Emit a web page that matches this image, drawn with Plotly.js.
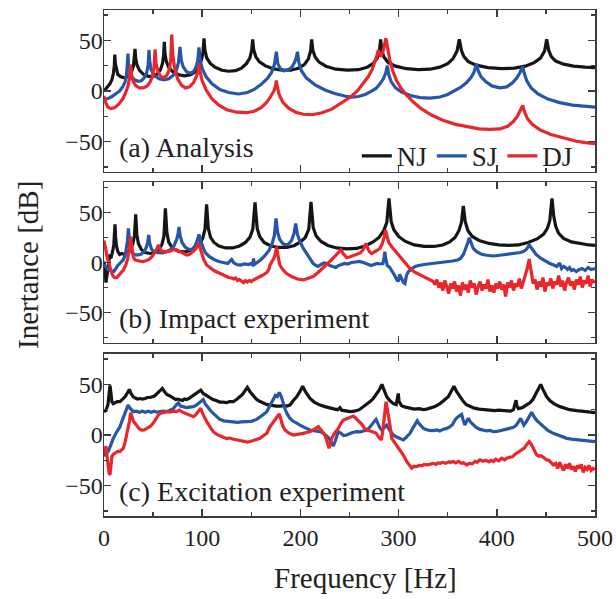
<!DOCTYPE html>
<html>
<head>
<meta charset="utf-8">
<script src="https://cdn.plot.ly/plotly-3.0.1.min.js"></script>
<style>
  html, body { margin: 0; padding: 0; background: #fff; }
  #chart { width: 616px; height: 599px; }
</style>
</head>
<body>
<div id="chart"></div>
<script>
// Inertance spectra [frequency Hz, dB] for the three joint types.

// (a) Analysis
const NJ_analysis = [[0,0],[3,3],[6,7],[8,11],[9.5,17],[10.5,25],[11,36],[11.6,27],[12.5,21],[14,16.5],[17,14],[21,13],[25,14.5],[28,19],[30,25],[31,32],[31.6,41.5],[32.3,32],[33.5,26],[36,20.5],[40,16.5],[45,14.5],[50,14.5],[54,16.5],[57.5,21],[59.5,27],[60.7,35],[61.4,48.5],[62.2,36],[63.5,29],[66,23],[70,19],[76,16],[82,15],[88,16],[93,19],[96.5,24],[99,30],[100.8,38],[101.8,52],[102.8,40],[104.5,33],[108,27.5],[113,23.5],[120,20.5],[127,19.5],[134,20],[140,22.5],[145,27],[148.5,32.5],[150.4,40],[151.4,51],[152.4,41],[154.5,34],[158,29],[164,25],[172,22],[181,20.5],[190,20.5],[198,22.5],[204,26],[208,31.5],[210.3,39],[211.5,51],[212.7,40],[215,33.5],[219,28.5],[226,24.5],[236,21.5],[248,20.5],[259,21],[268,23.5],[274,27],[278,32],[280.5,39.5],[281.7,51],[282.9,40],[285,33.5],[289.5,28],[297,24.5],[308,22],[320,21],[332,21.5],[342,23.5],[350,27],[355.5,32],[359.5,39.5],[361.8,51],[364,40],[366.5,34],[371,29],[379,25.5],[391,23],[405,22],[418,22.5],[429,24.5],[438,28],[444.5,32.5],[448.7,39.5],[450.8,51],[452.9,40],[455.5,34],[460,29.5],[468,26.5],[478,24.5],[490,23.5],[500,23]];
const SJ_analysis = [[0,-8.5],[4,-7.5],[8,-5.5],[12,-3],[16,0],[19,4],[21.5,9],[23,16],[23.8,25],[24.4,37],[25,27],[26,20],[28,14.5],[31,11],[35,9.5],[38,10],[41,13],[43.5,18],[45,26],[45.8,40.5],[46.6,29],[48,21],[51,15.5],[56,12],[61,11],[66,12],[70,15],[73.5,20],[75.8,28],[77.4,43.5],[78.6,31],[80.5,24],[84,19],[88,17.5],[91,19],[93.5,23],[95.5,30],[96.7,43],[97.8,31],[100,22],[104,14],[110,7],[118,1.5],[127,-1.5],[137,-3],[146,-1.5],[153,1.5],[160,6.5],[166,12],[170.5,18],[173.5,26],[175.5,38.8],[177,27],[179.5,22],[183,20],[187,20.5],[191,23],[194,28],[195.8,33],[197,38.8],[198.5,28],[201,20],[206,13],[215,6],[225,1],[235,-2.5],[245,-5],[252,-6],[259,-5.5],[266,-3.5],[272,-0.5],[277,2.5],[281,7],[284.5,12],[287,18],[288.5,25],[290,16],[292.5,9],[297,3],[303,-1],[312,-4.5],[322,-6.5],[332,-7],[342,-6],[350,-3.5],[357,0],[363,3.5],[369,8],[373.5,13],[376.5,18],[378.5,23],[379.5,26.8],[381,20],[384,14],[389,9],[395,5],[403,3],[410,4],[416,8],[420.5,13],[423.5,18],[425.5,22],[426.4,24],[427.8,18],[430.5,10],[435,3],[442,-3],[452,-8],[464,-11.5],[477,-14],[490,-15.5],[500,-16]];
const DJ_analysis = [[0,-5],[2,-12],[4,-16],[7,-17.5],[11,-16.5],[15,-13],[19,-8],[22,-2],[24.5,5],[26,13],[27,26],[28,16],[29.5,10],[32,5.5],[36,3],[40,3],[44,5],[47,9],[49.5,15],[51,24],[52,41],[53,27],[55,19],[58,14],[61,13],[64,15.5],[66.5,21],[68,31],[69,55.8],[70,36],[72,22],[75,12],[79,5.5],[83,3],[87,4],[91,8],[94,14],[95.8,20],[96.7,27.5],[97.8,19],[100,10],[104,1],[110,-8],[117,-14],[125,-18.5],[135,-21],[145,-21.5],[153,-20],[160,-16.5],[166,-11],[170,-5],[173,0],[174.7,5],[175.5,10.4],[176.5,4],[178.5,-4],[182,-11],[188,-17],[195,-21],[203,-23],[212,-23.5],[222,-21.5],[232,-18],[242,-12],[251,-6],[258,0],[264,7],[269,14],[273,21],[276,29],[278,35],[279.4,40.5],[280.6,37],[282,34],[284.5,40],[286,47],[287,52],[288,47],[289.5,38],[291,31],[294,20],[298,10],[302,3.5],[308,-4],[315,-11],[323,-17.5],[333,-23.5],[345,-29],[358,-33],[370,-35.5],[382,-37.5],[393,-38],[403,-37.5],[411,-35],[417,-30],[421,-25],[424.5,-19],[426.4,-14.4],[428,-20],[431,-27],[436,-33],[444,-38.5],[455,-43],[467,-46.5],[480,-49.5],[490,-51],[500,-52]];

// (b) Impact experiment
const NJ_impact = [[0,1],[1,-6],[2,-20],[3,-14],[4,-4],[5,2],[6,8],[7,4],[8,7],[9,12],[10,18],[10.6,26],[11.2,38],[11.8,26],[12.6,17],[14,11],[16,8],[18,9],[21,8],[24,10],[27,13],[29.5,19],[31,27],[32.3,48],[33.4,28],[35,19],[38,13],[42,10],[47,9],[52,10],[56,13],[59,18],[61,26],[62.5,54],[64,30],[66,20],[70,14],[76,11],[82,10.5],[88,12],[93,14.5],[97,18],[100.5,24],[102.8,33],[104.5,58],[106.2,34],[108.5,25],[112,20],[117,16.5],[124,14.5],[131,14.5],[138,16.5],[144,20],[148.5,25],[151.5,33],[153.8,60],[156,34],[158.5,26],[163,20],[170,16.5],[178,15],[186,15],[194,17],[200,20.5],[205,25],[208.5,33],[210.8,60.5],[213,35],[216,26.5],[221,21],[228,17],[237,14.5],[247,13.5],[257,14],[266,16.5],[274,20.5],[280,25],[285,32],[288,40],[290.2,64],[292.4,41],[295,33],[300,26],[307,21],[316,17.5],[326,16],[336,16],[345,17.5],[352,20.5],[357.5,25],[361.5,32],[364,40],[365.9,56.5],[367.8,41],[370.5,32],[375,26],[382,22],[392,19],[402,17.5],[412,17],[422,17.5],[432,20],[441,23.5],[447.5,28],[451.5,34],[454,42],[456.2,64],[458,46],[460,36],[463,29],[468,24],[476,20.5],[486,18.5],[494,17.5],[500,17]];
const SJ_impact = [[0,-2],[2,-5],[4,-7],[6,-8],[8,-8.5],[10,-9],[12,-6],[14,-3],[17,0],[19.5,2.5],[21.5,7],[23,14],[24,22],[24.8,34],[25.6,22],[27,13],[29,9],[32,7.5],[35,7.5],[38,8.5],[41,11],[43,15],[44.5,20],[45.5,27.4],[46.6,19],[48.5,13],[52,10],[56,9.5],[60,9.5],[64,11],[68,13],[71.5,17],[74,23],[75.5,29],[76.4,35.5],[77.5,27],[79.5,20],[83,15],[87,13],[90,13.5],[93,17],[95,22],[96.7,28],[98.5,21],[100.5,15],[103,10],[107,6],[112,3],[117,1],[122,-0.5],[126,-1],[128,1],[130,3],[132,0],[135,-2],[139,-2.5],[143,-1.5],[147,-2],[150,-1],[151.5,-3],[152.3,4],[153,-2],[156,0],[160,3],[164,7],[168,12],[171,18],[173.5,27],[175.2,44],[176.8,30],[179,23],[182,19],[185,17.5],[188,18.5],[191,22],[193.5,29],[195.2,39],[197,28],[199.5,21],[203,14],[207,8],[210,3],[213,-1],[216,-3],[218,-4],[221,-2],[224,-0.5],[227,-1],[230,-3],[233,-4],[236,-5],[239,-3],[242,-2],[245,-1],[248,-1.5],[252,0],[256,0.5],[260,1],[264,0],[268,-1.5],[272,-3],[275,-2],[278,-1],[281,-1.5],[284,-1],[285.2,5],[286,10.7],[287,3],[288.5,-3],[291,-5],[294,-9],[296,-13],[298,-17],[299.7,-19],[301,-12],[303,-16],[305,-20],[306.5,-21],[308,-13],[310,-9],[312,-7],[315,-5],[318,-3.5],[322,-2.5],[326,-2],[330,-1.5],[335,-1],[340,0],[345,0.5],[350,1],[355,1.5],[360,2.5],[363,4],[366,8],[368.5,14],[370.5,20],[372,24.7],[373.5,20],[376,14],[379.5,10.7],[384,8.5],[388,7.5],[392,7],[396.5,6.5],[401,7],[406,7.5],[411,8],[416,8.5],[420.3,9],[424,10],[427,11],[430,13],[433.1,17.4],[436,13],[440,8],[445,4],[450,1],[454,-1],[458,-2.5],[461,-4],[464,-0.5],[466,-6],[468,-4],[470,-5],[472,-7],[474,-5],[476,-8],[478,-7],[481,-9],[484,-7],[487,-6],[490,-8],[493,-5],[496,-7],[500,-6]];
const DJ_impact = [[0,22],[1,18],[2,12],[3,6],[4.4,0.8],[6,-6],[8,-11],[9.5,-14],[11,-15],[13,-15],[15,-13],[17,-10.5],[19.7,-7.5],[22,-3],[24,3],[25.5,12],[26.5,19],[27.2,25.7],[28,18],[29,10],[30,5],[32,2.5],[35,1.5],[38,1],[40,0.8],[43,1.5],[46,3],[49,6],[52,10],[54,14],[55.3,17.4],[56.5,14],[58,12],[60.4,10.7],[63,10.5],[66,11],[69,12],[72,13],[74,12.5],[77,11],[80,9],[84.2,7.5],[87,8],[90,10],[92.5,12.5],[94.5,15],[96,17],[97,19],[98,14],[99.5,8],[101.5,3],[104.5,-2.5],[108,-5.5],[112,-8],[115,-9.5],[118,-11],[121,-12.5],[124,-13.5],[127,-15],[130,-15.5],[132,-16.5],[134,-15.5],[136,-18],[138,-17],[140,-19],[142,-20],[144,-18],[146,-19.5],[148,-18],[150,-19],[152,-17.5],[155.5,-16],[158,-14.5],[161,-13],[163.5,-11.5],[165.7,-10],[168,-6.5],[169,-2.5],[171,1],[173,4],[174.5,9],[175.8,15.7],[177,8],[178,2],[179,-2.5],[182,-7],[186,-11],[191,-14],[197,-16.5],[203,-17.4],[208,-16],[213,-14],[218,-10],[222,-6.5],[226.8,-2.5],[231,2],[235,6],[238,9.5],[241.3,12.5],[243.5,9],[247,5],[250,5.5],[253,6.5],[257.3,7.5],[261,9.5],[264,13],[266.8,19],[268.5,14],[270.5,10.5],[272.6,9],[275,10],[278,12],[281,14],[283.5,19],[285.5,26],[286.8,32.4],[288,27],[290,20],[293,15.7],[297,11],[301.4,6],[306,0.5],[311.6,-6],[316,-9.5],[321.8,-12.5],[327,-15],[331,-17],[335.3,-19],[337,-22],[339,-17],[341,-25],[343,-20],[345,-28],[347,-18],[349,-24],[351,-31],[353,-21],[355,-26],[357,-19],[359,-29],[361,-23],[363,-33],[365,-20],[367,-27],[369,-22],[371,-30],[373,-18],[375,-25],[377,-21],[379,-32],[381,-24],[383,-19],[385,-28],[387,-22],[389,-26],[391,-17],[393,-29],[395,-23],[397,-30],[399,-21],[401,-26],[403,-19],[405,-27],[407,-22],[409,-34],[411,-20],[413,-25],[415,-18],[417,-28],[419,-21],[421,-24],[423,-16],[425,-26],[427,-19],[429,-14],[431,-6],[433,3.5],[435,-10],[437,-21],[439,-17],[441,-27],[443,-19],[445,-24],[447,-15],[449,-29],[451,-20],[453,-23],[455,-16],[457,-26],[459,-19],[461,-22],[463,-13],[465,-24],[467,-18],[469,-28],[471,-20],[473,-15],[475,-23],[477,-19],[479,-27],[481,-17],[483,-22],[485,-14],[487,-25],[489,-18],[491,-21],[493,-13],[495,-24],[497,-17],[499,-20],[500,-18]];

// (c) Excitation experiment
const NJ_excitation = [[0,23],[2,24],[4,30],[5,40],[6.1,49],[7,42],[8,33],[9.5,31],[11.2,32],[13.5,33],[16.3,33],[19,35],[21.4,37.7],[23.5,41],[25.8,45],[27.5,41],[29.8,37.7],[32,36.5],[34,35.5],[36.7,36],[39,35.5],[42,36],[44,37],[46.8,37],[49,37.5],[51.5,38.5],[53.7,40.6],[56,43],[59.4,46],[61.5,43],[64,40],[67.2,38.5],[70,37],[73,35],[75,35.5],[77.4,34.4],[80,34],[82,35.5],[84.2,35],[87,36.5],[89,38],[91,39.4],[94,41.5],[96.5,43],[98.5,44.3],[101,41],[104.6,38.5],[108,36.5],[111,35],[114.8,33.8],[118,32.5],[121,32.5],[125,32],[128,33],[131.7,33],[135,35],[138.5,37.7],[141,40],[143.5,43.5],[146,47],[148.5,43],[152,38.5],[155,35.5],[158,33.5],[162.2,31.2],[166,30],[170,29.5],[175,28.5],[179.2,28.5],[183,29],[186,28.5],[189.4,29.5],[192.8,34],[196,37.5],[199,42],[202.3,48.2],[205,43],[209.8,36],[214,32.5],[220,29.5],[225,28],[230,26.5],[235,25.5],[238,25],[240.3,27],[242,24.5],[246,23.5],[250.5,23],[255,23.5],[260,25],[264,27.9],[268,30.5],[271,33],[274.2,36],[277,39.5],[280,44],[283,50],[285,44],[287.9,37.7],[291,34],[294.6,31],[297.5,30],[299,36],[299.7,41],[300.5,33],[303,29],[307,27.5],[311.6,26.3],[316,25.5],[321,26],[325,25],[328.6,25.6],[333,26.5],[337,28],[342.2,31],[346,34],[350.6,37.7],[353.5,43],[356.4,48.2],[359,43],[362.5,37.7],[366,33],[369,30],[372.7,28],[377,26.5],[382,25.5],[386,25],[389.7,24.6],[394,24.5],[398,24],[402,24.5],[406,24],[410,24],[414,23.5],[417,25],[418.5,30],[419.6,34.4],[420.5,29],[422,26],[426,27],[430.5,29.5],[434,32],[437,35.5],[439,39.4],[442,44],[444.7,50],[447,45],[450.8,37.7],[454,34],[458,31],[464.4,28],[469,26.5],[474,25],[481.4,24],[486,23.5],[490,23],[494,22.5],[498.3,22],[500,22]];
const SJ_excitation = [[0,-21],[2,-18],[4.4,-16],[7,-9],[9.5,-3.3],[12,1.5],[14,5],[16.3,8.2],[18,13],[20,18.5],[22,24],[23.1,27.9],[24.5,29.5],[26,27],[28,25],[29.8,23],[33,23.5],[36,22.5],[39,23.5],[42,22.5],[45,23.5],[48,22.5],[51,23.5],[54,22.5],[57,23],[60,23.5],[63.8,23],[67,24.5],[70.6,26],[73,29],[75.7,31.8],[78,28.5],[81,27.5],[84,27],[87,27.5],[91,28],[94,29.5],[97,31.5],[99.5,34],[101,35],[103,31],[105,28],[108,24.6],[111,21.5],[114,19],[118,15.4],[122,14],[126,13.5],[131.7,13.1],[136,12.5],[140,13],[145.3,13.1],[150,13.5],[155.5,15.4],[159,17.5],[162,20],[165.7,23],[168,27],[170,31],[172.4,36],[174.5,39],[176.5,38],[178.5,42],[180.5,38],[182.6,31],[185,24],[187,20],[189.4,16.4],[192,14],[195,12],[199.6,9.8],[204,7.5],[209.8,4.9],[215,4],[220,3.3],[223,2],[226.8,-1.6],[229,-3],[231,-7],[233.5,-10.8],[235.5,-6],[238.6,3.3],[241,2],[244,-0.5],[247.1,0],[250,1.5],[253,2.5],[257.3,3.3],[261,3],[264,4],[267.5,4.9],[270,7],[273,10],[275,13],[277,15.4],[279,11],[281,7],[282.8,4.9],[285,7],[287.9,9.8],[290,6],[292,3],[294.6,0],[298,-2],[301,-3.5],[304.8,-4.9],[307,-3],[309,-0.5],[311.6,1.6],[314,6],[316.5,10],[319,14],[321,11],[323,8.5],[325.2,6.5],[328,5.5],[331,4.5],[335.3,4.3],[339,5],[342,4],[345,5.5],[349,6.5],[352,8],[355,10.5],[357.4,14.8],[360,17.5],[362,18.5],[364.2,20.4],[366,14],[367.5,9.8],[369,13],[371,16.4],[373,13],[376,10],[379,7.5],[382.9,5.5],[386,4.5],[390,4],[393,4.5],[396.5,3.3],[400,3.5],[404,4.5],[408,5],[413.4,6.5],[417,7.5],[420,10],[422,13],[424.3,16.4],[426,13],[427.5,9.8],[430,13],[432.5,17],[435.5,22.3],[438,18],[441,14],[444,11.5],[448,8],[452,4.5],[457.5,1.6],[462,0],[466,-1.5],[471.2,-3.3],[476,-4],[482,-4.5],[488.1,-4.9],[493,-5.5],[498.3,-6.5],[500,-6.5]];
const DJ_excitation = [[0,-18],[1,-14],[2,-11],[3,-20],[4.4,-34.4],[5.3,-38],[6.1,-39.4],[7,-32],[8.1,-21],[9.5,-19],[11.2,-18],[13,-17.5],[14.5,-16],[16.3,-16.4],[18,-15],[19.7,-13],[21.5,-7],[23.1,0],[24.5,7],[26,14],[27.2,22],[28.5,17],[30,13.5],[31.6,11.5],[34,8.5],[36,6],[38.4,4.9],[41,5],[43.5,6.5],[46.8,8.2],[50,11.5],[53,16],[55.3,19.7],[58,21.5],[61,22.5],[63.8,23],[67,22.5],[70,23.5],[74,23],[77,24.6],[80,22.5],[84.2,21],[87,19.5],[91,18],[93,19.5],[95,22],[97,24.5],[98.5,26.3],[100,22],[102,18],[104.6,13.1],[108,8],[111.3,3.3],[115,0.5],[118,-1],[121.5,-2.3],[125,-3.5],[128,-3],[131,-4],[135.1,-4.9],[139,-5.5],[143,-6],[146,-7],[148.7,-6.5],[152,-5.5],[155,-4.5],[158.9,-3.3],[162,-1],[165.7,1.6],[169,8.2],[172,12],[175,16],[178.5,20.7],[180.5,14],[182,9],[184.3,4.9],[188,2],[192.8,0],[197,0.5],[203,1.6],[206,2.5],[209.8,3.3],[214,5.5],[218.3,8.2],[221,5],[225,0],[227,-6],[229.1,-13.1],[230.5,-9],[231.9,-3.3],[235,2],[238.6,6.5],[241,11],[243.7,14.8],[246,15.5],[248.8,16.4],[251,17.5],[253.9,18.7],[256,17],[258,15],[260.7,13.1],[263,10],[265,7],[267.5,4.9],[271,4],[274.2,3.3],[277,2],[279.3,-1.6],[281,-3.5],[282.5,-4.9],[284,5],[285.5,20],[287.2,32.8],[288.5,26],[290,18],[291.5,8],[293,-3.3],[296,-7.5],[299,-11.5],[301.4,-14.8],[305,-20],[308.2,-26.2],[311,-30],[313.3,-32.8],[315.5,-31],[318.4,-31.2],[321,-30],[324,-30.5],[326,-29],[328.6,-29.5],[332,-29],[335,-28],[338,-29],[340,-27.5],[342.2,-27.9],[345,-27],[348,-28],[351,-26.5],[353,-27],[355.7,-26.2],[358,-27.5],[361,-26],[364,-28],[366,-27.5],[369.4,-29.5],[372,-28],[375,-28.5],[378,-26],[380,-27],[382.9,-24.6],[386,-26],[389,-25],[392,-26.5],[394,-25],[396.5,-26.2],[399,-24],[402,-25.5],[405,-23],[408,-24.5],[410,-23],[413,-22],[416,-21.5],[418,-19.5],[420.2,-18],[423,-16],[426,-14.5],[428,-13],[430,-10],[433.1,-6.5],[435,-9],[437,-13],[439,-16],[440.6,-19.7],[443,-21],[445,-20.5],[448,-22.5],[450.8,-24.6],[453,-25],[455,-27],[457.6,-29.5],[460,-28],[462,-33],[464,-27],[466,-31],[468,-35],[470,-29],[472,-33],[474,-28],[476,-34],[478,-31],[480,-36],[482,-30],[484,-33],[486,-29],[488,-37],[490,-32],[492,-34],[494,-30],[496,-35],[498,-33],[500,-34.4]];

const seriesNames = ['NJ', 'SJ', 'DJ'];
const seriesColors = ['#151515', '#2656a8', '#e8262c'];
const panelLabels = ['(a) Analysis', '(b) Impact experiment', '(c) Excitation experiment'];
const panelData = [
  [NJ_analysis, SJ_analysis, DJ_analysis],
  [NJ_impact, SJ_impact, DJ_impact],
  [NJ_excitation, SJ_excitation, DJ_excitation]
];
const xTicks = [0, 100, 200, 300, 400, 500];
const yTicks = [-50, 0, 50];

const FONT = "'Liberation Serif', 'Times New Roman', serif";
const INK = '#222';
const FRAME = '#3c3c3c';

const traces = [];
panelData.forEach((group, p) => {
  const suffix = p === 0 ? '' : String(p + 1);
  group.forEach((pts, s) => {
    traces.push({
      type: 'scatter',
      mode: 'lines',
      x: pts.map(d => d[0]),
      y: pts.map(d => d[1]),
      xaxis: 'x' + suffix,
      yaxis: 'y' + suffix,
      name: seriesNames[s],
      legendgroup: seriesNames[s],
      showlegend: p === 0,
      line: { color: seriesColors[s], width: 3.2 },
      hoverinfo: 'skip'
    });
  });
});

// panel domains (top to bottom)
const domains = [[0.68, 1.0], [0.3425, 0.6595], [0.0, 0.3202]];

function xAxis(p) {
  return {
    domain: [0, 1],
    anchor: p === 0 ? 'y' : 'y' + (p + 1),
    range: [0, 500],
    tickmode: 'array',
    tickvals: xTicks,
    ticktext: xTicks.map(String),
    showticklabels: p === 2,
    ticks: 'inside', ticklen: 7, tickwidth: 1.5, tickcolor: FRAME,
    minor: { dtick: 50, tick0: 0, ticks: 'inside', ticklen: 4, tickwidth: 1.5, tickcolor: FRAME },
    showline: true, linecolor: FRAME, linewidth: 1.5, mirror: 'ticks',
    showgrid: false, zeroline: false,
    tickfont: { family: FONT, size: 24, color: INK }
  };
}
function yAxis(p) {
  return {
    domain: domains[p],
    anchor: p === 0 ? 'x' : 'x' + (p + 1),
    range: [-80, 80],
    tickmode: 'array',
    tickvals: yTicks,
    ticktext: yTicks.map(v => v < 0 ? '\u2212' + Math.abs(v) : String(v)),
    ticks: 'inside', ticklen: 7, tickwidth: 1.5, tickcolor: FRAME,
    minor: { dtick: 25, tick0: 0, ticks: 'inside', ticklen: 4, tickwidth: 1.5, tickcolor: FRAME },
    showline: true, linecolor: FRAME, linewidth: 1.5, mirror: 'ticks',
    showgrid: false, zeroline: false,
    ticklabelstandoff: -5,
    tickfont: { family: FONT, size: 24, color: INK }
  };
}

const layout = {
  width: 616, height: 599,
  margin: { l: 104, r: 21, t: 10, b: 83 },
  paper_bgcolor: '#fff', plot_bgcolor: '#fff',
  font: { family: FONT, color: INK, size: 24 },
  showlegend: true,
  legend: {
    orientation: 'h',
    x: 0.965, xanchor: 'right',
    y: 0.711, yanchor: 'middle',
    font: { family: FONT, size: 27, color: INK },
    bgcolor: 'rgba(0,0,0,0)',
    itemwidth: 30,
    tracegroupgap: 0
  },
  xaxis: xAxis(0), xaxis2: xAxis(1), xaxis3: xAxis(2),
  yaxis: yAxis(0), yaxis2: yAxis(1), yaxis3: yAxis(2),
  annotations: panelLabels.map((t, p) => ({
    text: t,
    xref: p === 0 ? 'x' : 'x' + (p + 1),
    yref: p === 0 ? 'y' : 'y' + (p + 1),
    x: 13, y: -55.5,
    xanchor: 'left', yanchor: 'middle',
    showarrow: false,
    font: { family: FONT, size: 28, color: INK }
  })).concat([
    {
      text: 'Frequency [Hz]',
      xref: 'paper', yref: 'paper',
      x: 0.5316, y: -0.1225,
      xanchor: 'center', yanchor: 'middle',
      showarrow: false,
      font: { family: FONT, size: 29, color: INK }
    },
    {
      text: 'Inertance [dB]',
      xref: 'paper', yref: 'paper',
      x: -0.155, y: 0.496,
      xanchor: 'center', yanchor: 'middle',
      textangle: -90,
      showarrow: false,
      font: { family: FONT, size: 29, color: INK }
    }
  ])
};

Plotly.newPlot('chart', traces, layout, { displayModeBar: false, staticPlot: true });
</script>
</body>
</html>
